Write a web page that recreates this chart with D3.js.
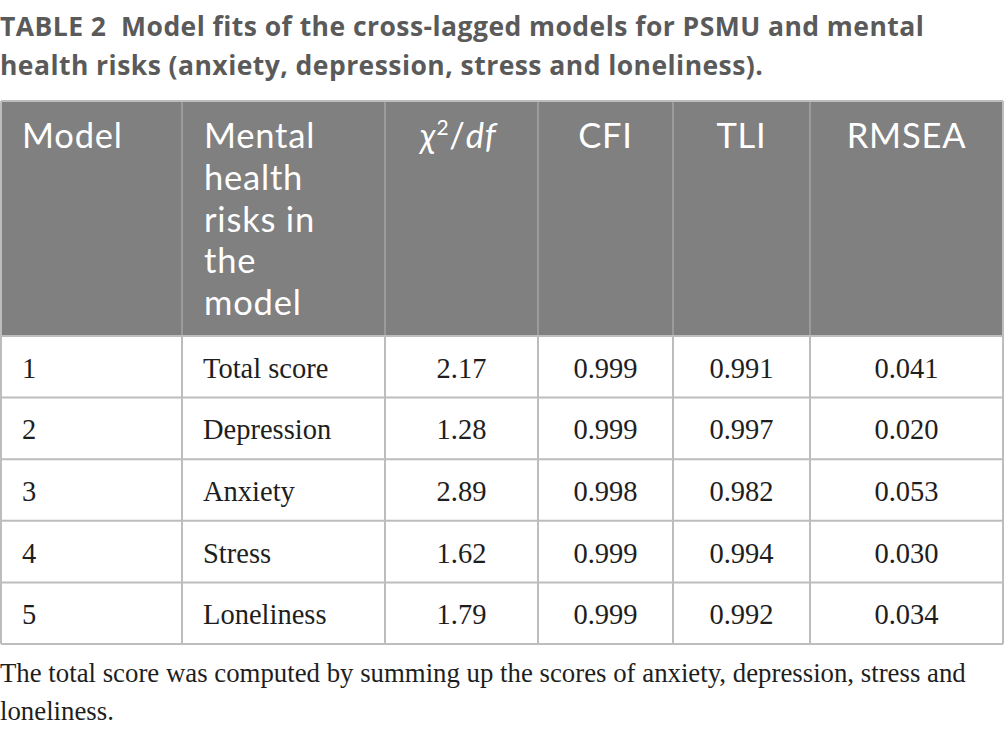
<!DOCTYPE html>
<html>
<head>
  <meta charset="utf-8">
  <script src="https://d3js.org/d3.v7.min.js"></script>
  <style>
    body { margin: 0; background: #fff; }
  </style>
</head>
<body>
  <svg id="table" width="1005" height="737"></svg>
  <script>
    // table contents
    const titleLines = [
      "TABLE 2  Model fits of the cross-lagged models for PSMU and mental",
      "health risks (anxiety, depression, stress and loneliness)."
    ];
    const riskHeader = ["Mental", "health", "risks in", "the", "model"];
    const models = ["1", "2", "3", "4", "5"];
    const risks = ["Total score", "Depression", "Anxiety", "Stress", "Loneliness"];
    const chiDf = ["2.17", "1.28", "2.89", "1.62", "1.79"];
    const cfi = ["0.999", "0.999", "0.998", "0.999", "0.999"];
    const tli = ["0.991", "0.997", "0.982", "0.994", "0.992"];
    const rmsea = ["0.041", "0.020", "0.053", "0.030", "0.034"];
    const footLines = [
      "The total score was computed by summing up the scores of anxiety, depression, stress and",
      "loneliness."
    ];

    const svg = d3.select('svg#table');

    const colEdges = [1, 182, 385, 538, 673, 810, 1003];
    const tableTop = 101, headBottom = 336, tableBottom = 644;

    const yScale = d3.scaleBand()
      .domain(d3.range(models.length))
      .range([headBottom, tableBottom]);

    const colCenter = i => (colEdges[i] + colEdges[i + 1]) / 2;

    // title
    svg.append('g').selectAll('text').data(titleLines)
      .join('text')
      .attr('x', 0)
      .attr('y', (d, i) => 36 + i * 39)
      .attr('xml:space', 'preserve')
      .style('white-space', 'pre')
      .text(d => d)
      .style('font-family', 'Open Sans')
      .style('font-weight', 'bold')
      .style('font-size', '26.5px')
      .style('letter-spacing', '0.45px')
      .style('fill', '#5a5a5a');

    // header
    svg.append('rect')
      .attr('x', colEdges[0]).attr('y', tableTop)
      .attr('width', colEdges[6] - colEdges[0])
      .attr('height', headBottom - tableTop)
      .attr('fill', '#7f807f');

    const header = svg.append('g')
      .style('font-family', 'Lato')
      .style('font-size', '34.5px')
      .style('letter-spacing', '0.8px')
      .style('fill', '#fff');

    header.append('text').attr('x', 22).attr('y', 148).text('Model');

    header.append('text')
      .attr('y', 148)
      .selectAll('tspan')
      .data(riskHeader)
      .join('tspan')
      .attr('x', 204)
      .attr('dy', (d, i) => i === 0 ? 0 : 41.75)
      .text(d => d);

    const chi = header.append('text')
      .attr('x', colCenter(2) - 3).attr('y', 148)
      .attr('text-anchor', 'middle');
    chi.append('tspan').style('font-style', 'italic').text('χ');
    chi.append('tspan').attr('dy', -13).style('font-size', '21px').text('2');
    chi.append('tspan').attr('dy', 13).text('/');
    chi.append('tspan').style('font-style', 'italic').text('df');

    header.append('g').selectAll('text')
      .data(['CFI', 'TLI', 'RMSEA'])
      .join('text')
      .attr('x', (d, i) => colCenter(i + 3))
      .attr('y', 148)
      .attr('text-anchor', 'middle')
      .text(d => d);

    // header inner dividers
    svg.append('g').selectAll('line')
      .data(colEdges.slice(1, 6))
      .join('line')
      .attr('x1', d => d).attr('x2', d => d)
      .attr('y1', tableTop).attr('y2', headBottom)
      .attr('stroke', '#9a9b9a').attr('stroke-width', 2);

    // body grid
    const grid = svg.append('g')
      .attr('stroke', '#bdbdbd').attr('stroke-width', 2);

    grid.selectAll('line.h')
      .data(d3.range(models.length).map(i => yScale(i)).concat([tableBottom]))
      .join('line')
      .attr('class', 'h')
      .attr('x1', colEdges[0]).attr('x2', colEdges[6])
      .attr('y1', d => d).attr('y2', d => d);

    grid.selectAll('line.v')
      .data(colEdges)
      .join('line')
      .attr('class', 'v')
      .attr('x1', d => d).attr('x2', d => d)
      .attr('y1', headBottom).attr('y2', tableBottom);

    grid.append('line')
      .attr('x1', colEdges[0]).attr('x2', colEdges[6])
      .attr('y1', tableTop).attr('y2', tableTop);
    grid.append('line')
      .attr('x1', colEdges[0]).attr('x2', colEdges[0])
      .attr('y1', tableTop).attr('y2', headBottom);
    grid.append('line')
      .attr('x1', colEdges[6]).attr('x2', colEdges[6])
      .attr('y1', tableTop).attr('y2', headBottom);

    // body rows
    const body = svg.append('g')
      .style('font-family', 'Liberation Serif')
      .style('font-size', '28.5px')
      .style('fill', '#1e1e1e');

    const rowY = i => yScale(i) + yScale.bandwidth() / 2 + 11;

    body.append('g').selectAll('text').data(models)
      .join('text')
      .attr('x', 22).attr('y', (d, i) => rowY(i))
      .text(d => d);

    body.append('g').selectAll('text').data(risks)
      .join('text')
      .attr('x', 203).attr('y', (d, i) => rowY(i))
      .text(d => d);

    [chiDf, cfi, tli, rmsea].forEach((col, c) => {
      body.append('g').selectAll('text').data(col)
        .join('text')
        .attr('x', colCenter(c + 2))
        .attr('y', (d, i) => rowY(i))
        .attr('text-anchor', 'middle')
        .text(d => d);
    });

    // footnote
    svg.append('g').selectAll('text').data(footLines)
      .join('text')
      .attr('x', 0)
      .attr('y', (d, i) => 682 + i * 38)
      .text(d => d)
      .style('font-family', 'Liberation Serif')
      .style('font-size', '26.8px')
      .style('fill', '#1e1e1e');
  </script>
</body>
</html>
